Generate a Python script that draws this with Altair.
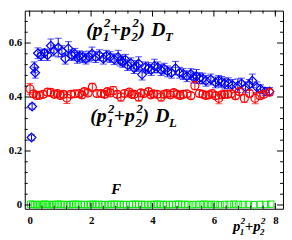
import altair as alt
import pandas as pd

# ---------------- data ----------------
x_T = [0.06, 0.08, 0.15, 0.18, 0.27, 0.37, 0.48, 0.58, 0.69, 0.79,
       0.93, 1.05, 1.16, 1.26, 1.37, 1.47, 1.55, 1.62, 1.73, 1.83,
       1.93, 2.03, 2.15, 2.27, 2.4, 2.5, 2.62, 2.75, 2.88, 2.95,
       3.03, 3.12, 3.19, 3.3, 3.4, 3.48, 3.55, 3.66, 3.77, 3.87,
       3.96, 4.06, 4.17, 4.28, 4.38, 4.49, 4.62, 4.75, 4.88, 5.0,
       5.12, 5.25, 5.33, 5.43, 5.53, 5.64, 5.74, 5.9, 6.05, 6.15,
       6.25, 6.35, 6.47, 6.6, 6.78, 6.9, 7.03, 7.15, 7.25, 7.4,
       7.52, 7.66, 7.81]
y_T = [0.25, 0.365, 0.51, 0.49, 0.562, 0.555, 0.563, 0.555, 0.59, 0.572,
       0.583, 0.57, 0.542, 0.58, 0.555, 0.56, 0.545, 0.551, 0.548, 0.542,
       0.55, 0.56, 0.548, 0.555, 0.542, 0.553, 0.548, 0.54, 0.548, 0.535,
       0.53, 0.538, 0.518, 0.525, 0.507, 0.515, 0.524, 0.483, 0.51, 0.507,
       0.5, 0.515, 0.51, 0.5, 0.505, 0.495, 0.49, 0.507, 0.49, 0.485,
       0.477, 0.485, 0.472, 0.477, 0.47, 0.468, 0.46, 0.465, 0.454, 0.46,
       0.456, 0.45, 0.451, 0.445, 0.442, 0.45, 0.436, 0.445, 0.46, 0.436,
       0.43, 0.42, 0.42]
e_T = [0.01, 0.01, 0.02, 0.02, 0.02, 0.02, 0.015, 0.02, 0.025, 0.02,
       0.035, 0.02, 0.02, 0.025, 0.02, 0.02, 0.02, 0.02, 0.02, 0.02,
       0.02, 0.025, 0.02, 0.02, 0.02, 0.02, 0.02, 0.02, 0.025, 0.02,
       0.02, 0.02, 0.02, 0.02, 0.02, 0.02, 0.025, 0.02, 0.02, 0.02,
       0.02, 0.025, 0.02, 0.02, 0.02, 0.02, 0.02, 0.025, 0.02, 0.02,
       0.02, 0.02, 0.02, 0.025, 0.02, 0.02, 0.02, 0.02, 0.02, 0.02,
       0.02, 0.02, 0.02, 0.02, 0.025, 0.02, 0.02, 0.02, 0.025, 0.02,
       0.015, 0.015, 0.015]

x_L = [0.01, 0.12, 0.22, 0.31, 0.44, 0.58, 0.69, 0.8, 0.9, 1.0,
       1.1, 1.21, 1.34, 1.47, 1.62, 1.7, 1.78, 1.9, 2.04, 2.19,
       2.34, 2.44, 2.53, 2.62, 2.72, 2.85, 2.97, 3.09, 3.24, 3.32,
       3.4, 3.55, 3.62, 3.72, 3.87, 3.95, 4.03, 4.15, 4.28, 4.38,
       4.47, 4.58, 4.69, 4.8, 4.9, 5.0, 5.12, 5.25, 5.38, 5.53,
       5.64, 5.74, 5.84, 5.94, 6.05, 6.16, 6.25, 6.34, 6.45, 6.56,
       6.7, 6.83, 6.99, 7.16, 7.34, 7.5, 7.62, 7.81]
y_L = [0.43, 0.412, 0.406, 0.406, 0.41, 0.418, 0.417, 0.41, 0.413, 0.406,
       0.41, 0.396, 0.41, 0.412, 0.413, 0.408, 0.42, 0.415, 0.436, 0.413,
       0.413, 0.41, 0.42, 0.415, 0.424, 0.41, 0.4, 0.413, 0.418, 0.41,
       0.41, 0.4, 0.415, 0.413, 0.42, 0.408, 0.412, 0.41, 0.4, 0.41,
       0.413, 0.408, 0.416, 0.41, 0.406, 0.41, 0.412, 0.405, 0.442, 0.413,
       0.41, 0.406, 0.408, 0.413, 0.405, 0.395, 0.408, 0.41, 0.41, 0.412,
       0.405, 0.42, 0.395, 0.413, 0.395, 0.405, 0.41, 0.418]
e_L = [0.02, 0.012, 0.01, 0.01, 0.012, 0.012, 0.012, 0.012, 0.012, 0.012,
       0.012, 0.02, 0.012, 0.012, 0.012, 0.012, 0.012, 0.012, 0.015, 0.012,
       0.012, 0.012, 0.012, 0.012, 0.015, 0.012, 0.015, 0.012, 0.012, 0.012,
       0.012, 0.015, 0.012, 0.012, 0.012, 0.012, 0.012, 0.012, 0.015, 0.012,
       0.012, 0.012, 0.012, 0.012, 0.012, 0.012, 0.012, 0.012, 0.015, 0.012,
       0.012, 0.012, 0.012, 0.012, 0.012, 0.02, 0.012, 0.012, 0.012, 0.012,
       0.012, 0.012, 0.015, 0.012, 0.02, 0.012, 0.012, 0.01]

x_F = [0.03, 0.1, 0.17, 0.25, 0.33, 0.42, 0.5, 0.58, 0.66, 0.75,
       0.85, 0.93, 1.02, 1.12, 1.22, 1.3, 1.4, 1.5, 1.58, 1.68,
       1.78, 1.88, 1.97, 2.06, 2.16, 2.25, 2.36, 2.45, 2.55, 2.65,
       2.75, 2.85, 2.95, 3.05, 3.15, 3.25, 3.35, 3.45, 3.55, 3.65,
       3.75, 3.85, 3.95, 4.05, 4.15, 4.25, 4.35, 4.45, 4.55, 4.65,
       4.75, 4.85, 4.95, 5.05, 5.15, 5.3, 5.42, 5.55, 5.68, 5.8,
       5.92, 6.05, 6.2, 6.35, 6.5, 6.65, 6.8, 6.95, 7.12, 7.3,
       7.5, 7.68, 7.85]
y_F = [0.003, 0.002, 0.002, 0.001, 0.002, 0.002, 0.003, 0.002, 0.001, 0.002,
       0.002, 0.003, 0.002, 0.002, 0.001, 0.002, 0.002, 0.003, 0.002, 0.002,
       0.002, 0.001, 0.002, 0.003, 0.002, 0.002, 0.002, 0.001, 0.002, 0.002,
       0.003, 0.002, 0.002, 0.002, 0.001, 0.002, 0.002, 0.003, 0.002, 0.002,
       0.002, 0.001, 0.002, 0.002, 0.003, 0.002, 0.002, 0.002, 0.001, 0.002,
       0.002, 0.003, 0.002, 0.002, 0.002, 0.001, 0.002, 0.002, 0.003, 0.002,
       0.002, 0.002, 0.001, 0.002, 0.002, 0.003, 0.002, 0.002, 0.002, 0.001,
       0.002, 0.002, 0.003]

x_major = [0, 2, 4, 6, 8]
x_minor = [0.4, 0.8, 1.2, 1.6, 2.4, 2.8, 3.2, 3.6, 4.4, 4.8, 5.2, 5.6,
           6.4, 6.8, 7.2, 7.6, 8.0]
y_major = [0, 0.2, 0.4, 0.6]
y_minor = [0.04, 0.08, 0.12, 0.16, 0.24, 0.28, 0.32, 0.36, 0.44, 0.48,
           0.52, 0.56, 0.64, 0.68]

# annotation anchors (data coordinates)
lab_DT = (1.84, 0.625)
lab_DL = (1.97, 0.307)
lab_F = (2.66, 0.042)
lab_ax = (6.62, -0.095)

# ---------------- layout ----------------
W, H = 262, 201
SERIF = "Liberation Serif"
BLUE, RED, GREEN = "#0000ff", "#ff0000", "#00ee00"

xs = alt.Scale(domain=[-0.16, 8.25], nice=False, zero=False)
ys = alt.Scale(domain=[-0.014, 0.72], nice=False, zero=False)

ax_common = dict(ticks=False, domain=False, grid=False, labelFont=SERIF,
                 labelFontWeight="bold", labelFontSize=11, labelColor="black",
                 title=None)
xaxis = alt.Axis(values=x_major, format="d", labelPadding=6, **ax_common)
yaxis = alt.Axis(values=y_major, format=".1~f", labelPadding=3, **ax_common)


def X(f):
    return alt.X(f, type="quantitative", scale=xs, axis=xaxis)


def Y(f):
    return alt.Y(f, type="quantitative", scale=ys, axis=yaxis)


dfT = pd.DataFrame({"x": x_T, "y": y_T, "e": e_T})
dfT["lo"] = dfT["y"] - dfT["e"]
dfT["hi"] = dfT["y"] + dfT["e"]
dfL = pd.DataFrame({"x": x_L, "y": y_L, "e": e_L})
dfL["lo"] = dfL["y"] - dfL["e"]
dfL["hi"] = dfL["y"] + dfL["e"]
dfF = pd.DataFrame({"x": x_F, "y": y_F})

layers = []

# green F squares
layers.append(alt.Chart(dfF).mark_point(shape="square", filled=False, stroke=GREEN,
                                         strokeWidth=1, size=42, opacity=1)
              .encode(x=X("x"), y=Y("y")))


def series(df, color, shape, size):
    out = []
    out.append(alt.Chart(df).mark_rule(color=color, strokeWidth=1)
               .encode(x=X("x"), y=Y("lo"), y2="hi"))
    for k in ("lo", "hi"):
        out.append(alt.Chart(df).mark_tick(color=color, orient="horizontal", size=7,
                                           thickness=1)
                   .encode(x=X("x"), y=Y(k)))
    out.append(alt.Chart(df).mark_point(shape=shape, filled=False, stroke=color,
                                        strokeWidth=1.2, size=size, opacity=1)
               .encode(x=X("x"), y=Y("y")))
    return out


layers += series(dfT, BLUE, "diamond", 80)
layers += series(dfL, RED, "circle", 66)

# inward ticks on all four sides
for vals, ln in ((y_major, 6), (y_minor, 3)):
    d = pd.DataFrame({"v": vals})
    layers.append(alt.Chart(d).mark_rule(color="black", strokeWidth=1)
                  .encode(y=Y("v"), x=alt.value(0), x2=alt.value(ln)))
    layers.append(alt.Chart(d).mark_rule(color="black", strokeWidth=1)
                  .encode(y=Y("v"), x=alt.value(W - ln), x2=alt.value(W)))
for vals, ln in ((x_major, 6), (x_minor, 3)):
    d = pd.DataFrame({"v": vals})
    layers.append(alt.Chart(d).mark_rule(color="black", strokeWidth=1)
                  .encode(x=X("v"), y=alt.value(H - ln), y2=alt.value(H)))
    layers.append(alt.Chart(d).mark_rule(color="black", strokeWidth=1)
                  .encode(x=X("v"), y=alt.value(0), y2=alt.value(ln)))


def piece(anchor, t, dx, dy, size):
    d = pd.DataFrame({"x": [anchor[0]], "y": [anchor[1]], "t": [t]})
    return (alt.Chart(d).mark_text(align="left", baseline="alphabetic", dx=dx, dy=dy,
                                   fontSize=size, font=SERIF, fontStyle="italic",
                                   fontWeight="bold", color="black")
            .encode(x=X("x"), y=Y("y"), text="t:N"))


def d_label(anchor, sub):
    return [piece(anchor, "(p", 0, 0, 20),
            piece(anchor, "1", 17, 5, 13), piece(anchor, "2", 18, -9, 13),
            piece(anchor, "+p", 24, 0, 20),
            piece(anchor, "2", 46, 5, 13), piece(anchor, "2", 47, -9, 13),
            piece(anchor, ")", 53, 0, 20),
            piece(anchor, "D", 66, 0, 20),
            piece(anchor, sub, 80, 5, 13)]


layers += d_label(lab_DT, "T")
layers += d_label(lab_DL, "L")
layers.append(piece(lab_F, "F", 0, 0, 15))
layers += [piece(lab_ax, "p", 0, 0, 15),
           piece(lab_ax, "1", 7, 4, 9), piece(lab_ax, "2", 8, -7, 9),
           piece(lab_ax, "+p", 12, 0, 15),
           piece(lab_ax, "2", 27.5, 4, 9), piece(lab_ax, "2", 28.5, -7, 9)]

chart = (alt.layer(*layers)
         .properties(width=W, height=H, padding=0, background="white")
         .configure_view(stroke="black", strokeWidth=1))

chart.save("out.html", embed_options={"renderer": "svg", "actions": False})
